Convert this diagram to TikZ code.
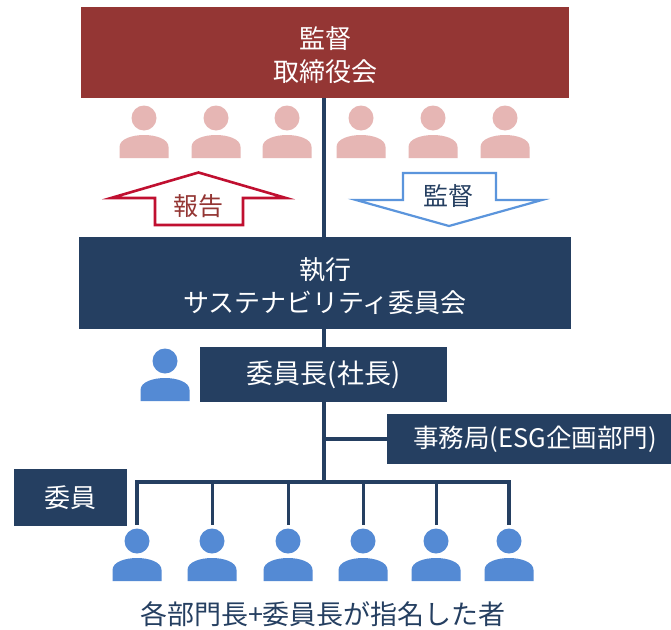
\documentclass[tikz,border=0pt]{standalone}
\usepackage{fontspec}
\setmainfont{Noto Sans CJK JP}
\definecolor{navy}{HTML}{253F61}
\definecolor{wine}{HTML}{943634}
\definecolor{crimson}{HTML}{C00F30}
\definecolor{pinkp}{HTML}{E6B6B4}
\definecolor{bluep}{HTML}{548AD4}
\definecolor{bluearrow}{HTML}{5B95DC}
\newcommand{\lowerline}[1]{\raisebox{-3pt}[0.88em][0.12em]{#1}}
\tikzset{
  box/.style={fill=navy,text=white,inner sep=0pt,align=center,font=\fontsize{26}{33}\selectfont},
  wire/.style={draw=navy,line width=4pt},
  thinwire/.style={draw=navy,line width=3pt},
  person/.pic={
    \fill[pic actions] (0,-23) circle (12.5);
    \fill[pic actions] (-24.5,17) -- (-24.5,6) .. controls (-24.5,-2) and (-12,-6) .. (0,-6)
       .. controls (12,-6) and (24.5,-2) .. (24.5,6) -- (24.5,17) -- cycle;
  },
}
\begin{document}
\begin{tikzpicture}[x=1pt,y=-1pt]
\useasboundingbox (0,0) rectangle (671,629);
\fill[white] (0,0) rectangle (671,629);
% boxes
\node[box,fill=wine,minimum width=488pt,minimum height=91pt] (board) at (325,52.5) {\lowerline{監督}\\\lowerline{取締役会}};
\node[box,minimum width=492pt,minimum height=92pt] (exec) at (325,283) {\lowerline{執行}\\\lowerline{サステナビリティ委員会}};
\node[box,minimum width=247pt,minimum height=55pt,font=\fontsize{27}{33}\selectfont] (chair) at (323.5,374.5) {委員長(社長)};
\node[box,minimum width=284pt,minimum height=50pt,font=\fontsize{25.5}{33}\selectfont] (sec) at (529,439) {\hspace*{12pt}事務局(ESG企画部門)};
\node[box,minimum width=113pt,minimum height=57pt] (member) at (70.5,497.5) {委員};
% main lines
\draw[wire] (board.south -| chair.north) -- (exec.north -| chair.north);
\draw[wire] (exec.south -| chair.north) -- (chair.north);
\coordinate (bus) at (323.5,482);
\draw[wire] (chair.south) -- (bus);
\draw[wire] (sec.west) -- (sec.west -| chair.south);
% arrows
\draw[crimson,line width=2.6pt,miter limit=10,fill=white] (198.5,172.5) -- (286,198) -- (243,198) -- (243,225) -- (155,225) -- (155,198) -- (111,198) -- cycle;
\draw[bluearrow,line width=2.2pt,miter limit=10,fill=white] (403,173) -- (496,173) -- (496,200) -- (542,200) -- (449,226) -- (356,200) -- (403,200) -- cycle;
\node[text=wine,font=\fontsize{25}{28}\selectfont,inner sep=0pt] (report) at (198,206) {報告};
\node[text=navy,font=\fontsize{25}{28}\selectfont,inner sep=0pt] (oversee) at (448,196) {監督};
% pink people
\foreach \x in {144,216,287,361,433,505}
  \pic[fill=pinkp] at (\x,141) {person};
% chair person
\pic[fill=bluep] at (165,384) {person};
% members
\coordinate (busL) at (137,482);
\coordinate (busR) at (509,482);
\draw[wire,line cap=rect] (busL) -- (busR);
\foreach \x [count=\i] in {137,212,288,363,436,509}{
  \coordinate (top\i) at (\x,525);
  \draw[thinwire] (\x,482) -- (top\i);
  \pic[fill=bluep] at (\x,564) {person};
}
\draw[wire] (busL) -- (top1);
\draw[wire] (busR) -- (top6);
\node[text=navy,font=\fontsize{27}{30}\selectfont,inner sep=0pt] (caption) at (323,614) {各部門長+委員長が指名した者};
\end{tikzpicture}
\end{document}
